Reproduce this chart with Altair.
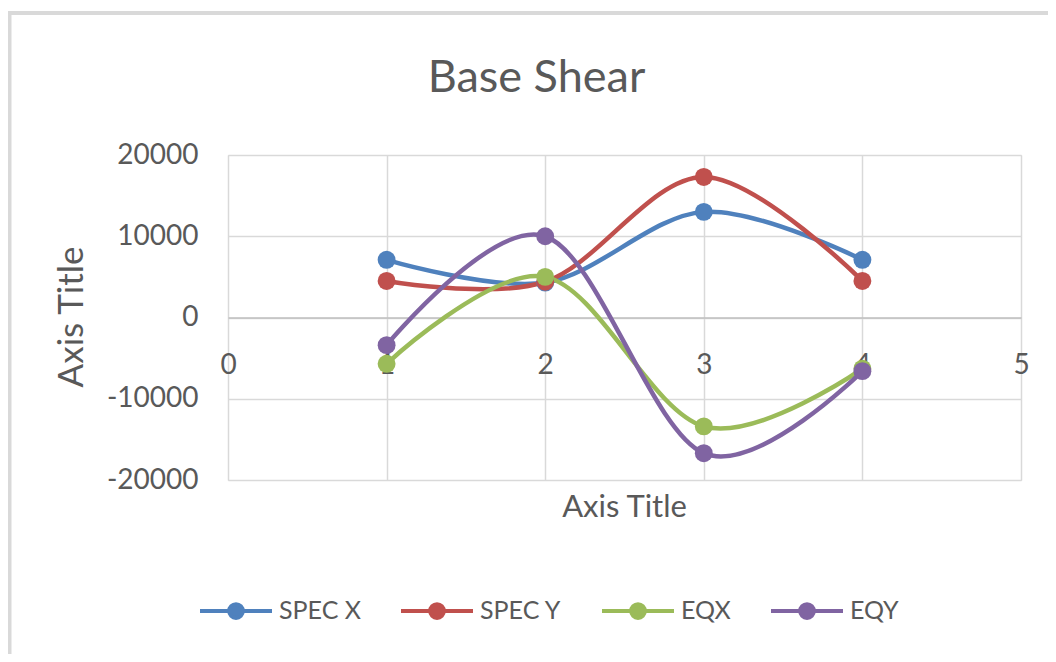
import altair as alt
import pandas as pd

# ---- data ----
x_vals = [1, 2, 3, 4]
spec_x = [7100, 4300, 13000, 7100]
spec_y = [4500, 4400, 17300, 4500]
eqx = [-5700, 5000, -13400, -6300]
eqy = [-3400, 10000, -16700, -6600]
series_names = ["SPEC X", "SPEC Y", "EQX", "EQY"]
series_colors = ["#4F81BD", "#C0504D", "#9BBB59", "#8064A2"]
x_ticks = [0, 1, 2, 3, 4, 5]
y_ticks = [-20000, -10000, 0, 10000, 20000]

rows = []
for name, vals in zip(series_names, [spec_x, spec_y, eqx, eqy]):
    for xv, yv in zip(x_vals, vals):
        rows.append({"x": xv, "value": yv, "series": name})
df = pd.DataFrame(rows)

FONT = "Lato"
TXT = "#595959"
GRID = "#d9d9d9"

PW, PH = 793, 325

xscale = alt.Scale(domain=[0, 5], nice=False, zero=False)
yscale = alt.Scale(domain=[-20000, 20000], nice=False)
cscale = alt.Scale(domain=series_names, range=series_colors)

legend = alt.Legend(
    orient="none", legendX=-30, legendY=418, direction="horizontal",
    title=None, labelFont=FONT, labelFontSize=25, labelColor=TXT,
    symbolType="M-1,0L1,0M-0.19,0A0.19,0.19 0 1 1 0.19,0A0.19,0.19 0 1 1 -0.19,0Z",
    symbolSize=5184, symbolStrokeWidth=4, labelOffset=5, columnPadding=32,
    symbolOpacity=1,
)

xaxis = alt.Axis(
    values=x_ticks, grid=True, gridColor=GRID, gridWidth=1.5, ticks=False,
    domain=True, domainColor="#bfbfbf", domainWidth=1.5, offset=-162.5,
    labelFont=FONT, labelFontSize=28, labelColor=TXT, labelPadding=34,
    title=None, labelFlush=False,
)
yaxis = alt.Axis(
    values=y_ticks, grid=True, gridColor=GRID, gridWidth=1.5, ticks=False,
    domain=False, labelExpr="datum.value < 0 ? '-' + abs(datum.value) : '' + datum.value",
    labelFont=FONT, labelFontSize=28,
    labelColor=TXT, labelPadding=30, title=None,
)

base = alt.Chart(df).encode(
    x=alt.X("x:Q", scale=xscale, axis=xaxis),
    y=alt.Y("value:Q", scale=yscale, axis=yaxis),
    color=alt.Color("series:N", scale=cscale, sort=series_names, legend=legend),
)

lines = base.mark_line(interpolate="cardinal", strokeWidth=4.5).encode(
    detail="series:N"
)
points = base.mark_point(filled=True, size=320, opacity=1)

one = pd.DataFrame({"k": [0]})
title_txt = alt.Chart(one).mark_text(
    text="Base Shear", font=FONT, fontSize=45, color=TXT, align="center",
    baseline="alphabetic",
).encode(x=alt.value(308.5), y=alt.value(-62.7))
xtitle = alt.Chart(one).mark_text(
    text="Axis Title", font=FONT, fontSize=31, color=TXT, align="center",
    baseline="alphabetic",
).encode(x=alt.value(396.5), y=alt.value(362))
ytitle = alt.Chart(one).mark_text(
    text="Axis Title", font=FONT, fontSize=35, color=TXT, align="center",
    baseline="middle", angle=270,
).encode(x=alt.value(-156), y=alt.value(162))
frame = alt.Chart(one).mark_rect(
    fill=None, stroke=GRID, strokeWidth=4
).encode(x=alt.value(-218.5), x2=alt.value(840), y=alt.value(-142), y2=alt.value(520))

chart = alt.layer(frame, lines, points, title_txt, xtitle, ytitle).properties(
    width=PW, height=PH,
    autosize=alt.AutoSizeParams(type="none"),
    padding={"left": 220, "top": 147, "right": 27, "bottom": 174},
).configure_view(stroke=GRID, strokeWidth=1.5).configure(background="white")

chart.save("out.html", embed_options={"renderer": "svg", "actions": False})
